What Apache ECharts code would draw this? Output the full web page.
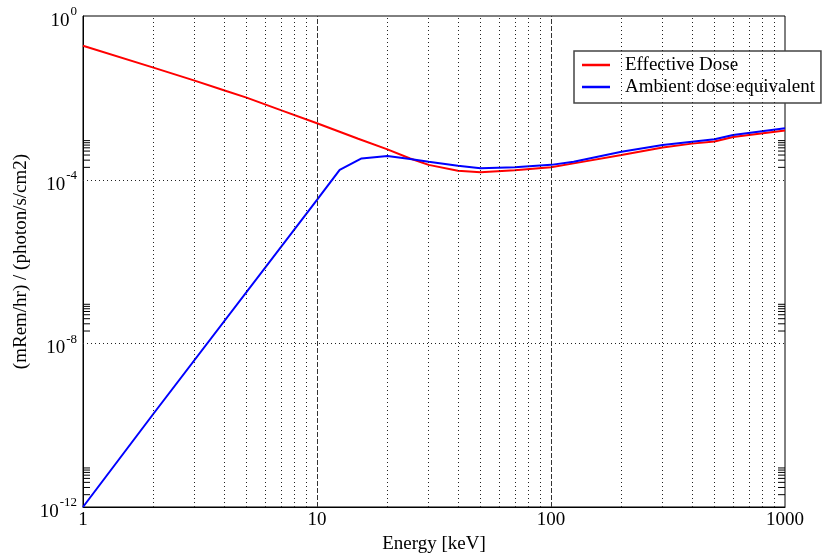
<!DOCTYPE html>
<html>
<head>
<meta charset="utf-8">
<script src="https://cdn.jsdelivr.net/npm/echarts@6/dist/echarts.min.js"></script>
<style>
html,body{margin:0;padding:0;background:#fff;}
#c{width:824px;height:556px;}
</style>
</head>
<body>
<div id="c"></div>
<script>
// ---- data ----
const seriesNames = ['Effective Dose', 'Ambient dose equivalent'];
const effEnergy = [1, 2, 3, 4, 5, 7, 10, 15, 20, 25, 30, 40, 50, 70, 100, 125, 200, 300, 400, 500, 600, 1000];
const effDose   = [0.188, 0.0546, 0.0263, 0.0153, 0.0101, 0.0050, 0.0024, 1.0e-3, 5.5e-4, 3.3e-4, 2.3e-4, 1.65e-4, 1.52e-4, 1.7e-4, 2.0e-4, 2.5e-4, 4.0e-4, 6.1e-4, 7.6e-4, 8.6e-4, 1.1e-3, 1.6e-3];
const ambEnergy = [1, 2, 10, 12.5, 15.5, 20, 25, 30, 40, 50, 70, 100, 125, 200, 300, 400, 500, 600, 1000];
const ambDose   = [1e-12, 1.9e-10, 3.2e-5, 1.73e-4, 3.3e-4, 3.8e-4, 3.2e-4, 2.75e-4, 2.2e-4, 1.9e-4, 2.0e-4, 2.3e-4, 2.75e-4, 4.8e-4, 7.0e-4, 8.5e-4, 9.7e-4, 1.24e-3, 1.8e-3];
const xRange = [1, 1000];
const yRange = [1e-12, 1];
const xMinorGrid = [2,3,4,5,6,7,8,9,20,30,40,50,60,70,80,90,200,300,400,500,600,700,800,900];
const xMajorGrid = [10, 100];
const yMajorGrid = [1e-8, 1e-4];
const yLabelDecades = [-12, -8, -4, 0];
const yMinorTicks = [];
[-12, -8, -4].forEach(function (e) {
  [2,3,4,5,6,7,8,9].forEach(function (m) { yMinorTicks.push(m * Math.pow(10, e)); });
});

const FONT = '"Liberation Serif", "Times New Roman", serif';
const pair = (xs, ys) => xs.map((x, i) => [x, ys[i]]);

// text measurement for superscript labels
const mctx = document.createElement('canvas').getContext('2d');
function textW(t, size) { mctx.font = size + 'px ' + FONT; return mctx.measureText(t).width; }

const chart = echarts.init(document.getElementById('c'), null, {renderer: 'canvas'});
const option = {
  animation: false,
  backgroundColor: '#fff',
  grid: {left: 83, right: 39, top: 16, bottom: 49, show: true, borderColor: '#000', borderWidth: 1,
    backgroundColor: 'transparent', containLabel: false, outerBoundsMode: 'none'},
  legend: {
    data: seriesNames,
    orient: 'vertical',
    left: 574, top: 51,
    padding: [4, 6, 6, 8],
    itemGap: 2,
    icon: 'rect',
    itemWidth: 28, itemHeight: 2.5,
    backgroundColor: '#fff',
    borderColor: '#444', borderWidth: 1.5,
    textStyle: {fontFamily: FONT, fontSize: 19, color: '#000', lineHeight: 20, padding: [0, 0, 0, 10]}
  },
  xAxis: {
    type: 'log', logBase: 10, min: xRange[0], max: xRange[1], splitNumber: 3,
    axisLine: {show: true, lineStyle: {color: '#000', width: 1}},
    axisTick: {show: false},
    splitLine: {show: false},
    axisLabel: {fontFamily: FONT, fontSize: 19, color: '#000', margin: 4,
      formatter: function (v) { return String(Math.round(v)); }},
    name: 'Energy [keV]', nameLocation: 'middle', nameGap: 24,
    nameTextStyle: {fontFamily: FONT, fontSize: 19, color: '#000'}
  },
  yAxis: {
    type: 'log', logBase: 10, min: yRange[0], max: yRange[1], interval: 4,
    axisLine: {show: true, lineStyle: {color: '#000', width: 1}},
    axisTick: {show: false},
    splitLine: {show: false},
    axisLabel: {show: false},
    name: '(mRem/hr) / (photon/s/cm2)', nameLocation: 'middle', nameGap: 52, nameRotate: 90,
    nameTextStyle: {fontFamily: FONT, fontSize: 19, color: '#000'}
  },
  series: [
    {
      type: 'custom', name: 'ticks', z: 1, silent: true,
      data: yMinorTicks.map(v => [xRange[0], v]),
      encode: {x: 0, y: 1},
      renderItem: function (params, api) {
        const v = api.value(1);
        const pL = api.coord([xRange[0], v]);
        const pR = api.coord([xRange[1], v]);
        const st = {stroke: '#000', lineWidth: 1};
        return {type: 'group', children: [
          {type: 'line', shape: {x1: pL[0], y1: pL[1], x2: pL[0] + 7, y2: pL[1]}, style: st},
          {type: 'line', shape: {x1: pR[0], y1: pR[1], x2: pR[0] - 7, y2: pR[1]}, style: st}
        ]};
      },
      markLine: {
        silent: true, symbol: ['none', 'none'], label: {show: false},
        animation: false,
        lineStyle: {color: '#222', width: 1, type: [1, 3]},
        data: xMinorGrid.map(x => ({xAxis: x}))
          .concat(xMajorGrid.map(x => ({xAxis: x, lineStyle: {color: '#333', width: 1, type: [5, 2]}})))
      }
    },
    {
      type: 'custom', name: 'hgrid', z: 1, silent: true,
      data: yMajorGrid.map(v => [xRange[0], v]),
      encode: {x: 0, y: 1},
      renderItem: function (params, api) {
        const v = api.value(1);
        const pL = api.coord([xRange[0], v]);
        const pR = api.coord([xRange[1], v]);
        return {type: 'line', shape: {x1: pL[0], y1: Math.round(pL[1]) + 0.5, x2: pR[0], y2: Math.round(pR[1]) + 0.5},
          style: {stroke: '#222', lineWidth: 1, lineDash: [1, 3]}};
      }
    },
    {
      type: 'custom', name: 'ylabels', z: 5, silent: true, clip: false,
      data: yLabelDecades.map(e => [xRange[0], Math.pow(10, e)]),
      encode: {x: 0, y: 1},
      renderItem: function (params, api) {
        const v = api.value(1);
        const e = Math.round(Math.log10(v));
        const p = api.coord([xRange[0], v]);
        const sup = String(e);
        const right = p[0] - 6;
        const supW = textW(sup, 13);
        return {type: 'group', children: [
          {type: 'text', x: right - supW - 1, y: p[1] + 5,
            style: {text: '10', fontFamily: FONT, fontSize: 19, fill: '#000', align: 'right', verticalAlign: 'middle'}},
          {type: 'text', x: right, y: p[1] - 4,
            style: {text: sup, fontFamily: FONT, fontSize: 13, fill: '#000', align: 'right', verticalAlign: 'middle'}}
        ]};
      }
    },
    {
      type: 'line', name: seriesNames[0], z: 3,
      data: pair(effEnergy, effDose),
      symbol: 'none', smooth: false,
      lineStyle: {color: '#ff0000', width: 2}, itemStyle: {color: '#ff0000'}
    },
    {
      type: 'line', name: seriesNames[1], z: 4,
      data: pair(ambEnergy, ambDose),
      symbol: 'none', smooth: false,
      lineStyle: {color: '#0000ff', width: 2}, itemStyle: {color: '#0000ff'}
    }
  ]
};
chart.setOption(option);
</script>
</body>
</html>
